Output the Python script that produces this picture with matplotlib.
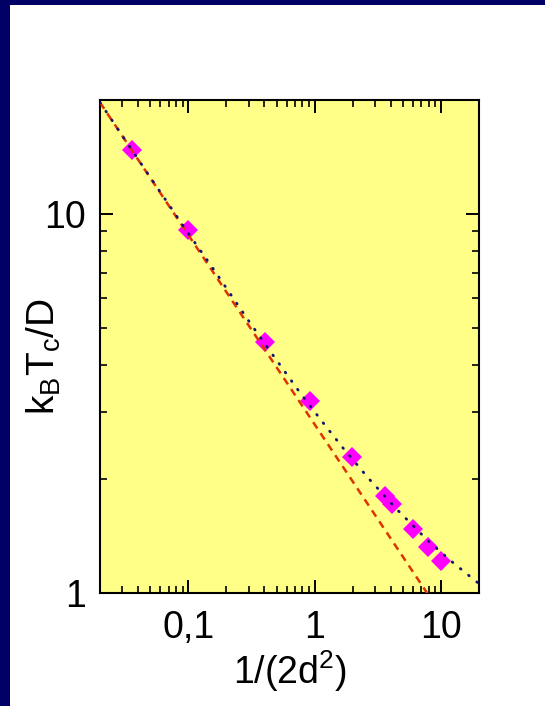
import numpy as np
import matplotlib
matplotlib.use("Agg")
import matplotlib.pyplot as plt
from matplotlib.patches import Rectangle
from matplotlib.ticker import LogLocator, NullFormatter, FixedLocator, FixedFormatter

plt.rcParams['font.family'] = ['Liberation Sans', 'DejaVu Sans']
plt.rcParams['mathtext.default'] = 'regular'

# measured points
x_pts = [0.036, 0.10, 0.405, 0.92, 1.99, 3.61, 4.08, 5.98, 7.86, 9.97]
y_pts = [14.8, 9.07, 4.59, 3.22, 2.29, 1.80, 1.72, 1.475, 1.325, 1.217]

# power-law asymptote (dashed)
x_pow = [0.02, 8.0]
y_pow = [19.7, 0.985]

# full curve (dotted)
x_full = [0.02, 0.05, 0.10, 0.158, 0.30, 0.45, 0.79, 1.22, 1.65, 2.66, 4.47, 7.94, 12.0, 17.9, 20.0]
y_full = [19.7, 12.5, 8.9, 7.16, 5.23, 4.32, 3.33, 2.76, 2.43, 2.01, 1.663, 1.371, 1.215, 1.09, 1.058]

x_ticks = [0.1, 1, 10]
x_ticklabels = ['0,1', '1', '10']
y_ticks = [1, 10]
y_ticklabels = ['1', '10']

fig = plt.figure(figsize=(5.45, 7.06), dpi=100)
fig.patch.set_facecolor('white')

# dark frame along left and top edges
fig.patches.append(Rectangle((0, 0), 10/545, 1, transform=fig.transFigure,
                             facecolor='#000066', edgecolor='none', zorder=-1))
fig.patches.append(Rectangle((0, 1 - 5/706), 1, 5/706, transform=fig.transFigure,
                             facecolor='#000066', edgecolor='none', zorder=-1))

ax = fig.add_axes([100/545, 113/706, 379/545, 493/706])
ax.set_facecolor('#ffff88')

ax.plot(x_pts, y_pts, linestyle='none', marker='D', markersize=10,
        color='#ff00ff', markeredgewidth=0, zorder=3)
ax.plot(x_pow, y_pow, color='#dd3300', lw=1.8, linestyle=(0, (3, 2.3)), zorder=4)
ax.plot(x_full, y_full, color='#14146e', lw=2.0, linestyle=(0, (0.3, 3.5)),
        dash_capstyle='round', zorder=5)

ax.set_xscale('log')
ax.set_yscale('log')
ax.set_xlim(0.02, 20)
ax.set_ylim(1, 20)

ax.xaxis.set_major_locator(FixedLocator(x_ticks))
ax.xaxis.set_major_formatter(FixedFormatter(x_ticklabels))
ax.yaxis.set_major_locator(FixedLocator(y_ticks))
ax.yaxis.set_major_formatter(FixedFormatter(y_ticklabels))
ax.xaxis.set_minor_locator(LogLocator(base=10, subs=np.arange(2, 10)))
ax.yaxis.set_minor_locator(LogLocator(base=10, subs=np.arange(2, 10)))
ax.xaxis.set_minor_formatter(NullFormatter())
ax.yaxis.set_minor_formatter(NullFormatter())

ax.tick_params(which='both', direction='in', top=True, right=True,
               labelsize=27, colors='black')
ax.tick_params(which='major', length=9.5, width=1.4)
ax.tick_params(which='minor', length=5, width=1.2)
ax.tick_params(axis='x', which='major', pad=12)
ax.tick_params(axis='y', which='major', pad=10)

for s in ax.spines.values():
    s.set_linewidth(1.5)
    s.set_color('black')

ax.set_xlabel('1/(2d$^2$)', fontsize=27, labelpad=2)
ax.set_ylabel('k$_B$T$_c$/D', fontsize=28)
ax.yaxis.set_label_coords(-0.098, 0.48)

fig.savefig('out.png', dpi=100)
